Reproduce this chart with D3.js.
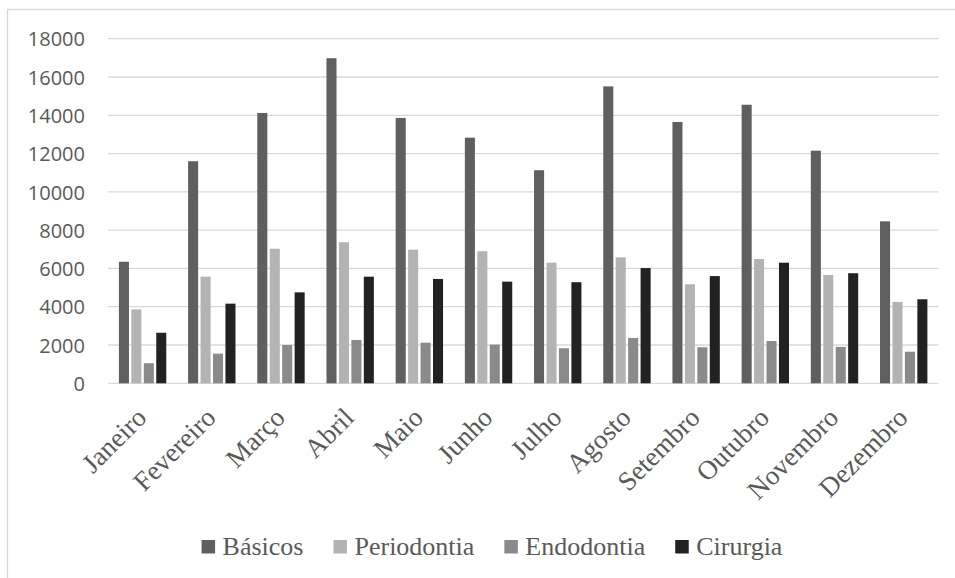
<!DOCTYPE html>
<html>
<head>
<meta charset="utf-8">
<script src="https://cdn.jsdelivr.net/npm/d3@7"></script>
<style>
  html, body { margin: 0; padding: 0; background: #fff; }
  svg { display: block; }
</style>
</head>
<body>
<svg id="chart" width="955" height="578"></svg>
<script>
const months = ["Janeiro","Fevereiro","Março","Abril","Maio","Junho","Julho","Agosto","Setembro","Outubro","Novembro","Dezembro"];
const seriesNames = ["Básicos","Periodontia","Endodontia","Cirurgia"];
const basicos     = [6350, 11600, 14120, 16980, 13860, 12830, 11130, 15510, 13650, 14550, 12150, 8460];
const periodontia = [3860, 5570, 7030, 7370, 6980, 6900, 6300, 6580, 5170, 6490, 5660, 4250];
const endodontia  = [1050, 1550, 2000, 2260, 2120, 2020, 1830, 2370, 1880, 2210, 1900, 1650];
const cirurgia    = [2640, 4160, 4750, 5570, 5450, 5310, 5280, 6020, 5600, 6300, 5750, 4390];
const yTicks = [0, 2000, 4000, 6000, 8000, 10000, 12000, 14000, 16000, 18000];
const colors = ["#5f5f5f", "#b3b3b3", "#8a8a8a", "#222222"];

(function () {
const seriesValues = [basicos, periodontia, endodontia, cirurgia];
const svg = d3.select("#chart");

// chart frame (left + top visible)
svg.append("path")
  .attr("d", "M7.5,578 L7.5,9.5 L955,9.5")
  .attr("fill", "none").attr("stroke", "#d9d9d9").attr("stroke-width", 1.3);

const pL = 108, pR = 938.3, pT = 38.7, pB = 383.3;

const y = d3.scaleLinear().domain([0, 18000]).range([pB, pT]);
const x0 = d3.scaleBand().domain(months).range([pL, pR]).padding(0);
const x1 = d3.scaleBand().domain(seriesNames).range([0, x0.bandwidth()]).paddingInner(0).paddingOuter(0.78);

// gridlines
svg.append("g").selectAll("line").data(yTicks).join("line")
  .attr("x1", pL).attr("x2", pR)
  .attr("y1", d => y(d)).attr("y2", d => y(d))
  .attr("stroke", "#d9d9d9").attr("stroke-width", 1.3);

// y axis labels
const yAxis = d3.axisLeft(y).tickValues(yTicks).tickSize(0).tickPadding(0).tickFormat(d3.format("d"));
const yg = svg.append("g").attr("transform", "translate(85,0)").call(yAxis);
yg.select(".domain").remove();
yg.selectAll("text")
  .attr("font-family", "'Open Sans', sans-serif")
  .attr("font-size", 20)
  .attr("fill", "#595959")
  .attr("dy", "0.36em");

// bars
const data = months.map((m, i) => ({ month: m, vals: seriesNames.map((s, j) => ({ s, j, v: seriesValues[j][i] })) }));
const inset = 1.2;
svg.append("g").selectAll("g").data(data).join("g")
  .attr("transform", d => `translate(${x0(d.month)},0)`)
  .selectAll("rect").data(d => d.vals).join("rect")
  .attr("x", d => x1(d.s) + inset)
  .attr("width", x1.bandwidth() - 2 * inset)
  .attr("y", d => y(d.v))
  .attr("height", d => y(0) - y(d.v))
  .attr("fill", d => colors[d.j]);

// x axis labels
const xAxis = d3.axisBottom(x0).tickSize(0).tickPadding(0);
const xg = svg.append("g").attr("transform", `translate(0,${pB})`).call(xAxis);
xg.select(".domain").remove();
xg.selectAll(".tick text")
  .attr("font-family", "'Liberation Serif', 'Times New Roman', serif")
  .attr("font-size", 27)
  .attr("fill", "#595959")
  .attr("text-anchor", "end")
  .attr("y", 0).attr("dy", 0)
  .attr("transform", "translate(5.5,36) rotate(-45)");

// legend
const legend = svg.append("g");
const items = legend.selectAll("g").data(seriesNames).join("g");
items.append("rect").attr("width", 13.5).attr("height", 13.5).attr("y", 540)
  .attr("fill", (d, i) => colors[i]);
items.append("text").text(d => d)
  .attr("y", 555)
  .attr("font-family", "'Liberation Serif', 'Times New Roman', serif")
  .attr("font-size", 26)
  .attr("fill", "#595959");
const widths = [];
items.selectAll("text").each(function() { widths.push(this.getComputedTextLength()); });
const sq = 13.5, gapT = 7.5, gapI = 30;
const itemW = widths.map(w => sq + gapT + w);
const total = d3.sum(itemW) + gapI * (itemW.length - 1);
let cx = 492 - total / 2;
items.each(function(d, i) {
  const g = d3.select(this);
  g.select("rect").attr("x", cx);
  g.select("text").attr("x", cx + sq + gapT);
  cx += itemW[i] + gapI;
});
})();
</script>
</body>
</html>
